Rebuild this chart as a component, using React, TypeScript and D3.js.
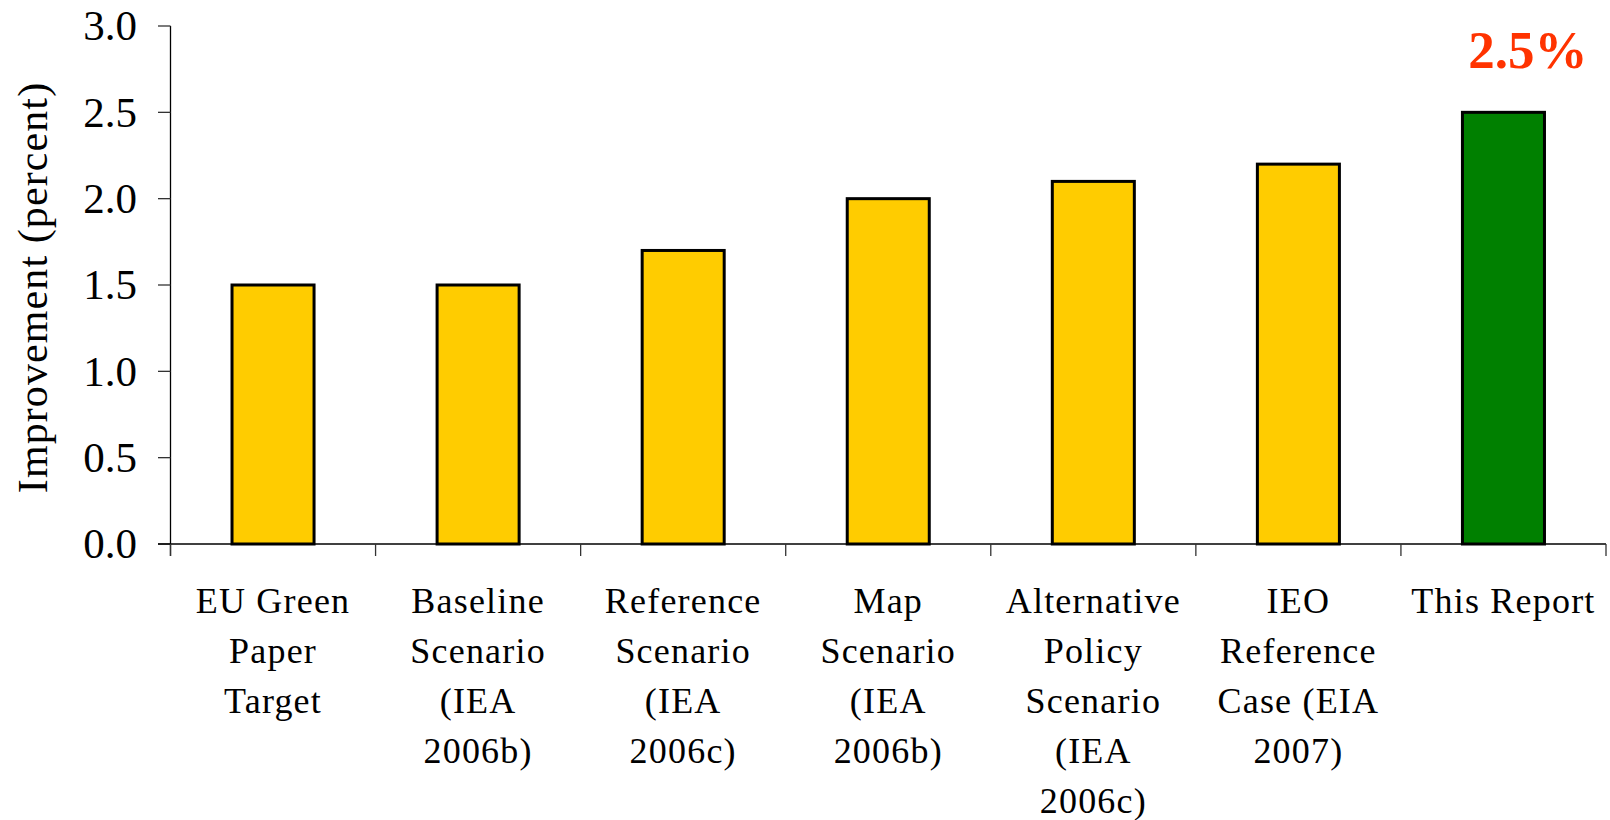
import React from "react";
import * as d3 from "d3";

// Chart data
const categories: string[][] = [
  ["EU Green", "Paper", "Target"],
  ["Baseline", "Scenario", "(IEA", "2006b)"],
  ["Reference", "Scenario", "(IEA", "2006c)"],
  ["Map", "Scenario", "(IEA", "2006b)"],
  ["Alternative", "Policy", "Scenario", "(IEA", "2006c)"],
  ["IEO", "Reference", "Case (EIA", "2007)"],
  ["This Report"],
];
const improvement: number[] = [1.5, 1.5, 1.7, 2.0, 2.1, 2.2, 2.5];
const highlighted: boolean[] = [false, false, false, false, false, false, true];
const yTicks: number[] = [0, 0.5, 1.0, 1.5, 2.0, 2.5, 3.0];
const calloutIndex = 6;

const W = 1610;
const H = 820;
const left = 170.5;
const right = 1606;
const top = 26;
const bottom = 544;
const font = "'Liberation Serif', 'Times New Roman', serif";

export default function App() {
  const keys = categories.map((_, i) => String(i));
  const x = d3.scaleBand<string>().domain(keys).range([left, right]).padding(0);
  const y = d3.scaleLinear().domain([0, 3]).range([bottom, top]);
  const barW = x.bandwidth() * 0.4;
  const fmt = d3.format(".1f");
  const edges = [...keys.map((k) => x(k) as number), right];

  const cx = (i: number) => (x(String(i)) as number) + x.bandwidth() / 2;
  const callout = improvement[calloutIndex];

  return (
    <svg
      width={W}
      height={H}
      style={{ position: "absolute", left: 0, top: 0, background: "#fff" }}
      fontFamily={font}
    >
      {/* bars */}
      {improvement.map((v, i) => (
        <rect
          key={i}
          x={cx(i) - barW / 2}
          y={y(v)}
          width={barW}
          height={y(0) - y(v)}
          fill={highlighted[i] ? "#008000" : "#FFCC00"}
          stroke="#000"
          strokeWidth={3}
        />
      ))}

      {/* y axis */}
      <line x1={left} x2={left} y1={y(3)} y2={bottom + 12} stroke="#000" strokeWidth={1.3} />
      {yTicks.map((t) => (
        <g key={t}>
          <line x1={158} x2={left} y1={y(t)} y2={y(t)} stroke="#333" strokeWidth={1.3} />
          <text
            x={137}
            y={y(t)}
            dy="0.33em"
            textAnchor="end"
            fontSize={43}
            fill="#000"
          >
            {fmt(t)}
          </text>
        </g>
      ))}
      <text
        transform={`translate(46.5, 287.5) rotate(-90)`}
        textAnchor="middle"
        fontSize={42}
        letterSpacing={1.1}
        fill="#000"
      >
        Improvement (percent)
      </text>

      {/* x axis */}
      <line x1={158} x2={right} y1={bottom} y2={bottom} stroke="#000" strokeWidth={1.3} />
      {edges.map((e, i) => (
        <line key={i} x1={e} x2={e} y1={bottom} y2={bottom + 12} stroke="#333" strokeWidth={1.3} />
      ))}
      {categories.map((lines, i) => (
        <text key={i} textAnchor="middle" fontSize={36} letterSpacing={1.2} fill="#000">
          {lines.map((ln, j) => (
            <tspan key={j} x={cx(i)} y={bottom + 69 + j * 50}>
              {ln}
            </tspan>
          ))}
        </text>
      ))}

      {/* callout */}
      <text
        x={cx(calloutIndex) + 24.5}
        y={y(callout) - 44}
        textAnchor="middle"
        fontSize={53}
        fontWeight="bold"
        fill="#FF3300"
      >
        {`${fmt(callout)}%`}
      </text>
    </svg>
  );
}
